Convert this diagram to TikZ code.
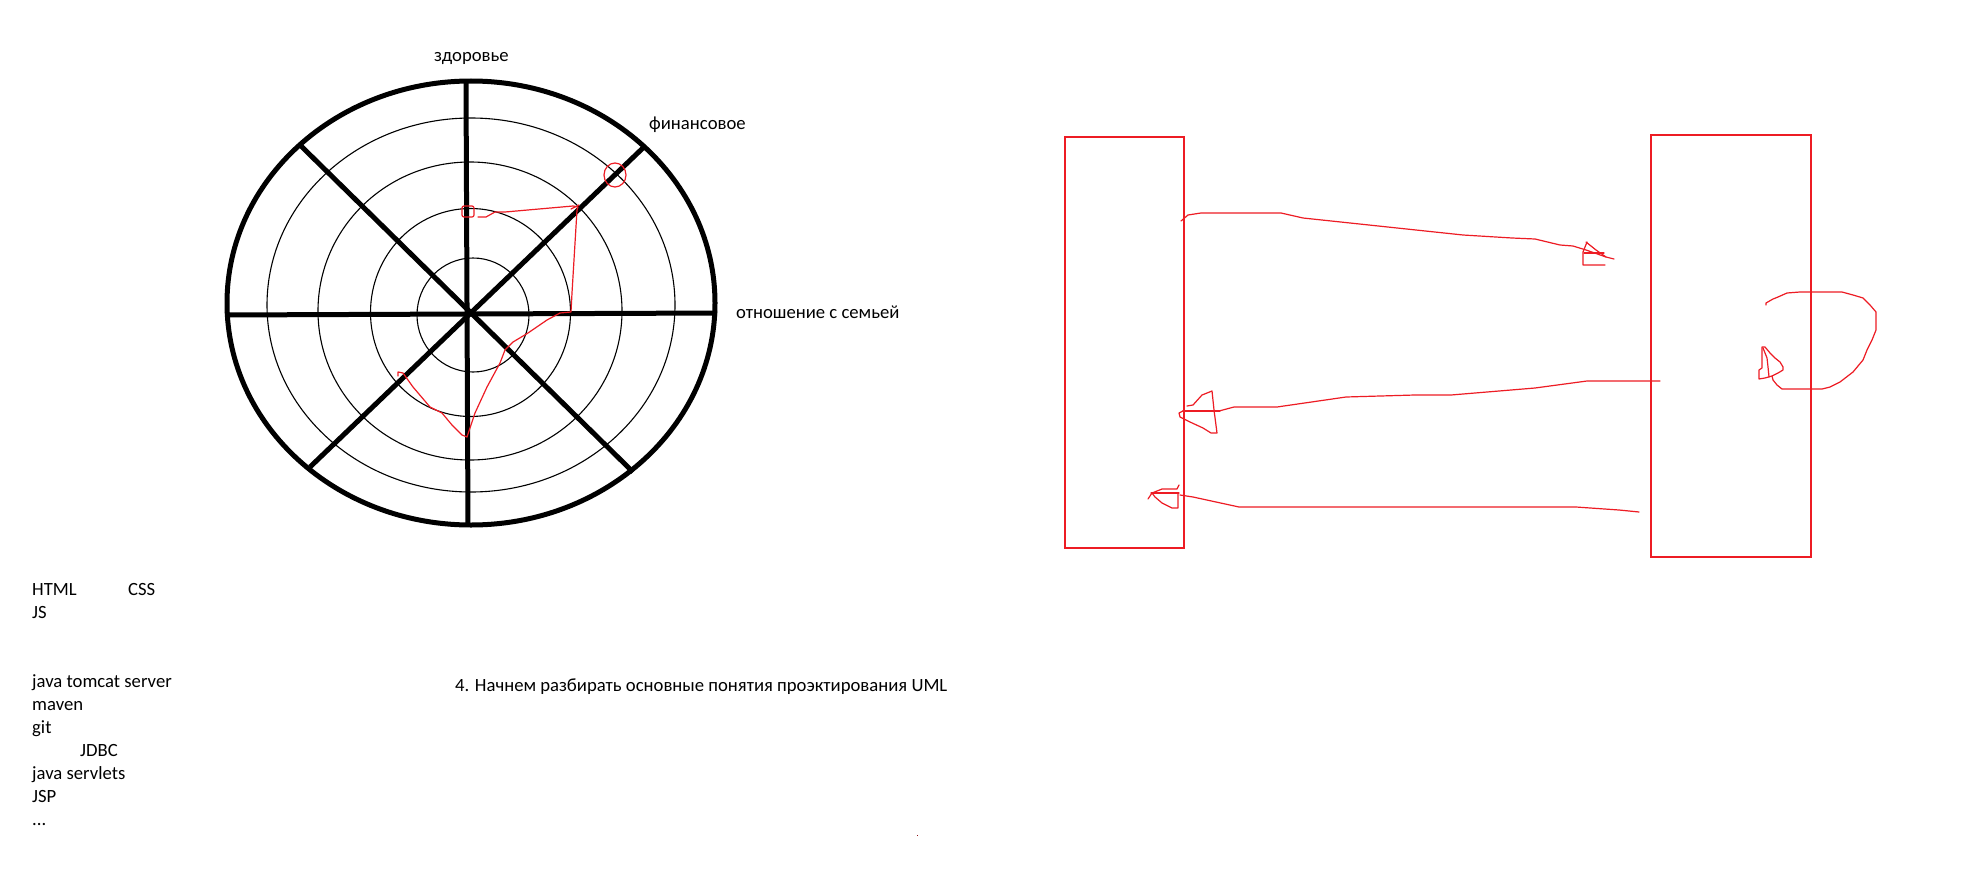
\documentclass[tikz,border=0pt]{standalone}
\usepackage{fontspec}
\setmainfont{Carlito}
\definecolor{pred}{RGB}{237,28,36}
\begin{document}
\begin{tikzpicture}[x=1pt,y=-1pt,
  thickline/.style={line width=5pt},
  thinring/.style={line width=1.1pt},
  redpen/.style={draw=pred,line width=1.2pt,line join=round,line cap=round},
  lbl/.style={inner sep=0pt,anchor=base west,font=\fontsize{18.67}{23}\selectfont},
  box/.style={draw=pred,line width=1.2pt,inner sep=0pt}]
\useasboundingbox[fill=white] (0,0) rectangle (1988,872);

% ---- wheel ----
\draw[thinring] (473,315) ellipse [x radius=56pt, y radius=57pt];
\draw[thinring] (470.5,312.5) ellipse [x radius=100pt, y radius=104pt];
\draw[thinring] (470,311) ellipse [x radius=152pt, y radius=149pt];
\draw[thinring] (471,305) ellipse [x radius=204pt, y radius=187pt];
\draw[thickline] (471,303) ellipse [x radius=244pt, y radius=222pt];
\coordinate (hL) at (225,315); \coordinate (hR) at (717,313);
\coordinate (vT) at (466,82);  \coordinate (vB) at (468,526);
\coordinate (d1a) at (300,145); \coordinate (d1b) at (633,472);
\coordinate (d2a) at (645,146); \coordinate (d2b) at (310,467);
\draw[thickline] (hL) -- (hR);
\draw[thickline] (vT) -- (vB);
\draw[thickline] (d1a) -- (d1b);
\draw[thickline] (d2a) -- (d2b);

\node[lbl] (health) at (434,62) {здоровье};
\node[lbl] (fin) at (649,130) {финансовое};
\node[lbl] (fam) at (736,318) {отношение с семьей};

% red scribble on wheel
\draw[redpen, rounded corners=2pt] (462,206) rectangle (474,217);
\draw[redpen] (615,175) ellipse [x radius=11pt, y radius=12pt];
\draw[redpen] (478,217) -- (486,217) -- (495,212) -- (505,212) -- (573,206)
  -- (578,207) -- (577,210) -- (572,293) -- (571,312) -- (560,313) -- (547,320)
  -- (528,333) -- (513,342) -- (505,350) -- (500,363) -- (487,387) -- (475,413)
  -- (467,437) -- (462,435) -- (452,425) -- (442,413) -- (430,407) -- (413,387)
  -- (403,373) -- (398,372) -- (398,376);
\draw[redpen] (571,209) -- (579,205);

% ---- texts ----
\node[lbl] (html) at (32,595) {HTML};
\node[lbl] (css) at (128,595) {CSS};
\node[lbl] (js) at (32,618) {JS};
\node[lbl] (tomcat) at (32,687) {java tomcat server};
\node[lbl] (maven) at (32,710) {maven};
\node[lbl] (git) at (32,733) {git};
\node[lbl] (jdbc) at (80,756) {JDBC};
\node[lbl] (servlets) at (32,779) {java servlets};
\node[lbl] (jsp) at (32,802) {JSP};
\node[lbl] (dots) at (32,825) {...};
\node[lbl] (uml) at (455,691) {4. Начнем разбирать основные понятия проэктирования UML};
\fill[pred!60!black] (916.5,834.5) rectangle (918,836);

% ---- sequence sketch ----
\node[box, minimum width=119pt, minimum height=411pt] (L) at (1124.5,342.5) {};
\node[box, minimum width=160pt, minimum height=422pt] (R) at (1731,346) {};

% message 1
\coordinate (m1s) at (1181,221);
\draw[redpen] (m1s) -- (1188,215) -- (1201,213) -- (1281,213) -- (1303,218)
  -- (1463,235) -- (1512,238) -- (1535,239) -- (1560,245) -- (1573,246)
  -- (1586,250) -- (1606,257) -- (1614,259);
\draw[redpen] (1586,242) -- (1596,250) -- (1606,257);
\draw[redpen] (1587,242) -- (1583,252) -- (1583,265) -- (1605,265);
\draw[redpen] (1584,253) -- (1604,253);

% message 2
\coordinate (m2s) at (1660,381);
\draw[redpen] (m2s) -- (1587,381) -- (1535,388) -- (1451,395) -- (1415,395)
  -- (1346,397) -- (1277,407) -- (1234,407) -- (1219,411) -- (1183,411);
\draw[redpen] (1187,406) -- (1193,405) -- (1202,395) -- (1212,391) -- (1214,410)
  -- (1217,433) -- (1211,433) -- (1203,428) -- (1190,422) -- (1180,417)
  -- (1179,413) -- (1183,411);
\draw[redpen] (1183,411) -- (1220,411);

% message 3
\coordinate (m3s) at (1639,512);
\draw[redpen] (m3s) -- (1619,510) -- (1576,507) -- (1239,507) -- (1193,497) -- (1180,495);
\draw[redpen] (1179,485) -- (1177,489) -- (1162,489) -- (1152,493) -- (1148,499);
\draw[redpen] (1151,493) -- (1179,493);
\draw[redpen] (1152,493) -- (1155,497) -- (1162,503) -- (1172,508) -- (1178,508) -- (1178,493);

% self message
\coordinate (m4s) at (1766,305);
\draw[redpen] (m4s) -- (1766,303) -- (1773,299) -- (1778,297) -- (1787,293)
  -- (1800,292) -- (1842,292) -- (1853,295) -- (1863,298) -- (1870,305)
  -- (1876,312) -- (1876,330) -- (1872,340) -- (1867,350) -- (1863,360)
  -- (1853,372) -- (1840,382) -- (1830,387) -- (1822,389) -- (1782,389)
  -- (1777,385) -- (1773,380) -- (1772,376);
\draw[redpen] (1762,347) -- (1765,347) -- (1770,353) -- (1775,358) -- (1780,362)
  -- (1783,367) -- (1783,370) -- (1778,373) -- (1772,376) -- (1765,378)
  -- (1759,379) -- (1759,370) -- (1762,368) -- (1762,352) -- (1762,347);
\draw[redpen] (1763,348) -- (1767,358) -- (1768,367) -- (1769,377);
\end{tikzpicture}
\end{document}
